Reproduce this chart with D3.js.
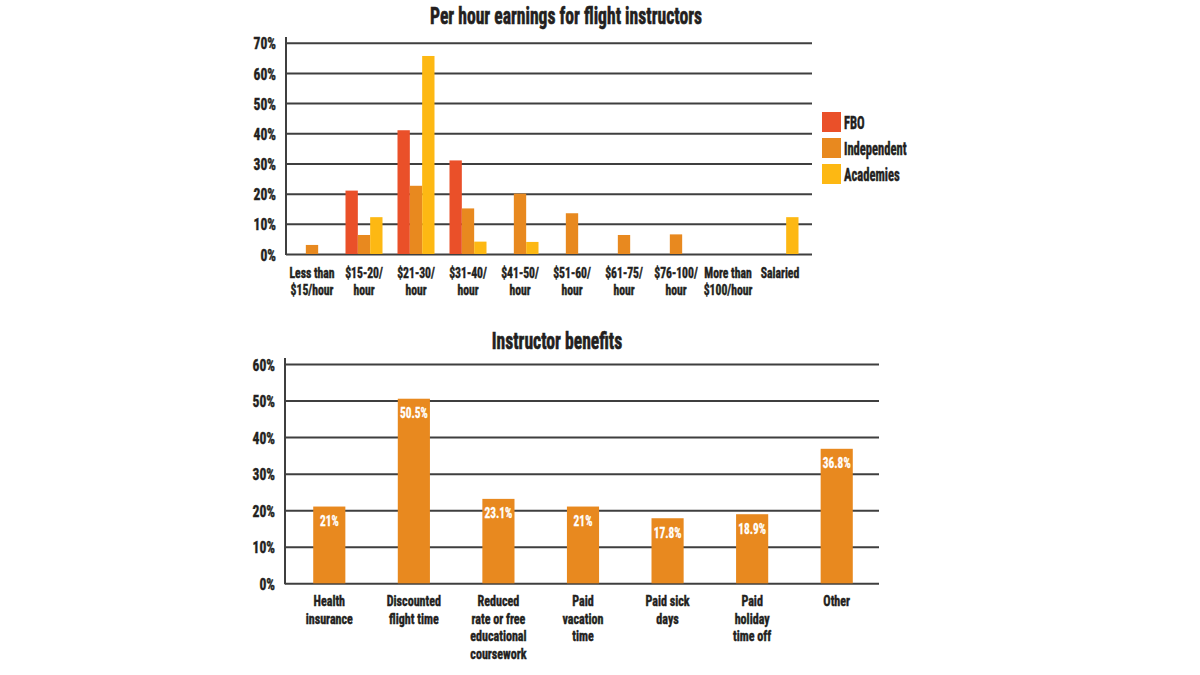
<!DOCTYPE html>
<html>
<head>
<meta charset="utf-8">
<script src="https://cdn.jsdelivr.net/npm/d3@7"></script>
<style>
  html, body { margin: 0; padding: 0; background: #fff; }
  svg { display: block; }
</style>
</head>
<body>
<svg id="chart" width="1200" height="675"></svg>
<script>
// ---------- DATA ----------
const earningsCategories = [
  ["Less than", "$15/hour"], ["$15-20/", "hour"], ["$21-30/", "hour"], ["$31-40/", "hour"],
  ["$41-50/", "hour"], ["$51-60/", "hour"], ["$61-75/", "hour"], ["$76-100/", "hour"],
  ["More than", "$100/hour"], ["Salaried"]
];
const seriesNames = ["FBO", "Independent", "Academies"];
const fboValues         = [0, 21, 41, 31, 0, 0, 0, 0, 0, 0];
const independentValues = [3, 6.3, 22.6, 15.1, 20, 13.5, 6.3, 6.5, 0, 0];
const academiesValues   = [0, 12.2, 65.6, 4.1, 4, 0, 0, 0, 0, 12.2];
const earningsTicks = [0, 10, 20, 30, 40, 50, 60, 70];

const benefitCategories = [
  ["Health", "insurance"], ["Discounted", "flight time"],
  ["Reduced", "rate or free", "educational", "coursework"],
  ["Paid", "vacation", "time"], ["Paid sick", "days"],
  ["Paid", "holiday", "time off"], ["Other"]
];
const benefitValues = [21, 50.5, 23.1, 21, 17.8, 18.9, 36.8];
const benefitTicks = [0, 10, 20, 30, 40, 50, 60];

// ---------- STYLE ----------
const FONT = "'Liberation Sans Narrow', 'Roboto Condensed', 'DejaVu Sans Condensed', 'Liberation Sans', Arial, sans-serif";
const INK = "#231f20";
const GRID = "#3f3f3f";
const colors = { "FBO": "#ea5029", "Independent": "#e8891f", "Academies": "#fdb813" };
const benefitColor = "#e8891f";

const svg = d3.select("#chart");
svg.append("rect").attr("width", 1200).attr("height", 675).attr("fill", "#fff");

// one <text> element, possibly multi-line via tspans, horizontally condensed
function txt(parent, lines, x, y, o) {
  o = Object.assign({ size: 15, sx: 0.82, anchor: "middle", fill: INK, heavy: 0.45, lh: 17 }, o || {});
  if (!Array.isArray(lines)) lines = [lines];
  const t = parent.append("text")
    .attr("transform", `translate(${x},${y}) scale(${o.sx},1)`)
    .attr("text-anchor", o.anchor)
    .attr("font-family", FONT)
    .attr("font-weight", "bold")
    .attr("font-size", o.size)
    .attr("fill", o.fill)
    .attr("stroke", o.fill)
    .attr("stroke-width", o.heavy);
  t.selectAll("tspan").data(lines).join("tspan")
    .attr("x", 0)
    .attr("y", (d, j) => j * o.lh)
    .text(d => d);
  return t;
}

function gridAxis(g, y, ticks, x0, x1, topY, labelSize, sx) {
  const axis = d3.axisLeft(y).tickValues(ticks).tickFormat(d => d + "%")
    .tickSize(-(x1 - x0)).tickPadding(0);
  const ag = g.append("g").attr("transform", `translate(${x0},0)`).call(axis);
  ag.select(".domain").remove();
  ag.selectAll(".tick line").attr("stroke", GRID).attr("stroke-width", 2);
  ag.selectAll(".tick text")
    .attr("font-family", FONT).attr("font-weight", "bold")
    .attr("font-size", labelSize).attr("fill", INK)
    .attr("stroke", INK).attr("stroke-width", 0.45)
    .attr("x", -10 / sx).attr("dy", "0.36em")
    .attr("transform", `scale(${sx},1)`);
  g.append("line").attr("x1", x0).attr("x2", x0)
    .attr("y1", topY).attr("y2", y(0) + 1)
    .attr("stroke", GRID).attr("stroke-width", 2);
}

// ---------- TOP CHART ----------
const topG = svg.append("g");
const yTop = d3.scaleLinear().domain([0, 70]).range([254, 42.7]);
const xTop = d3.scaleBand().domain(d3.range(earningsCategories.length)).range([286, 806]).padding(0);
const xSeries = d3.scaleBand().domain(seriesNames).range([-18.5, 18.5]);

txt(topG, "Per hour earnings for flight instructors", 566, 24, { size: 24.5, sx: 0.72, heavy: 0.6 });
gridAxis(topG, yTop, earningsTicks, 286, 812, 37, 17, 0.8);

const seriesData = [fboValues, independentValues, academiesValues];
seriesNames.forEach((name, si) => {
  topG.append("g").selectAll("rect")
    .data(seriesData[si].map((v, i) => ({ v, i })).filter(d => d.v > 0))
    .join("rect")
    .attr("x", d => xTop(d.i) + xTop.bandwidth() / 2 + xSeries(name))
    .attr("width", xSeries.bandwidth())
    .attr("y", d => yTop(d.v))
    .attr("height", d => yTop(0) - yTop(d.v))
    .attr("fill", colors[name]);
});

earningsCategories.forEach((lines, i) => {
  txt(topG, lines, xTop(i) + xTop.bandwidth() / 2, 278, { size: 15, sx: 0.78, lh: 17.5 });
});

// legend
seriesNames.forEach((name, i) => {
  const ly = 112 + i * 26;
  topG.append("rect").attr("x", 822).attr("y", ly).attr("width", 19).attr("height", 20).attr("fill", colors[name]);
  txt(topG, name, 844, ly + 16.5, { size: 18, sx: 0.7, anchor: "start" });
});

// ---------- BOTTOM CHART ----------
const botG = svg.append("g");
const yBot = d3.scaleLinear().domain([0, 60]).range([583.3, 364]);
const xBot = d3.scaleBand().domain(d3.range(benefitCategories.length)).range([287, 879])
  .paddingInner(0.62).paddingOuter(0.31);

txt(botG, "Instructor benefits", 557, 349, { size: 24.5, sx: 0.72, heavy: 0.6 });
gridAxis(botG, yBot, benefitTicks, 285, 879, 358, 17, 0.8);

botG.append("g").selectAll("rect")
  .data(benefitValues.map((v, i) => ({ v, i })))
  .join("rect")
  .attr("x", d => xBot(d.i))
  .attr("width", xBot.bandwidth())
  .attr("y", d => yBot(d.v))
  .attr("height", d => yBot(0) - yBot(d.v))
  .attr("fill", benefitColor);

benefitValues.forEach((v, i) => {
  txt(botG, v + "%", xBot(i) + xBot.bandwidth() / 2, yBot(v) + 19.5, { size: 15, sx: 0.76, fill: "#fff", heavy: 0.3 });
});

benefitCategories.forEach((lines, i) => {
  txt(botG, lines, xBot(i) + xBot.bandwidth() / 2, 606, { size: 15.5, sx: 0.78, lh: 17.6 });
});
</script>
</body>
</html>
